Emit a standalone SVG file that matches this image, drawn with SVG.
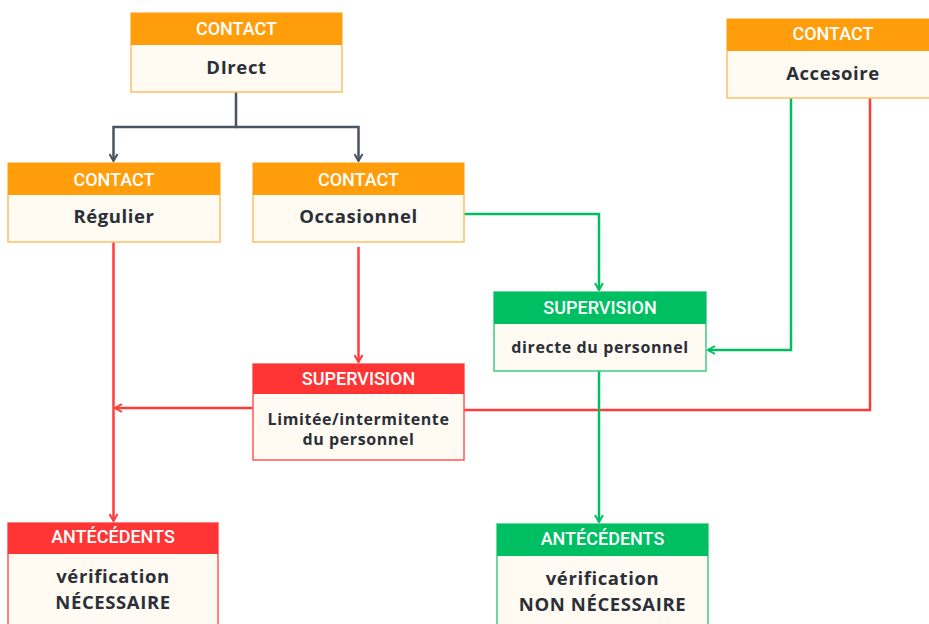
<svg xmlns="http://www.w3.org/2000/svg" width="929" height="624" viewBox="0 0 929 624">
<defs>
<style>
.hd{font-family:Roboto,"Liberation Sans",sans-serif;font-size:18px;fill:#fff;text-anchor:middle;font-weight:500}
.bd{font-family:"Open Sans","Liberation Sans",sans-serif;font-weight:700;fill:#2b2f38;text-anchor:middle;letter-spacing:0.6px}
.body{fill:#fffbf3;stroke-width:1.5}
.o .body{stroke:#ffbf66}.o .h{fill:#ff9d0a}
.r .body{stroke:#ff5a5a}.r .h{fill:#ff3535}
.g .body{stroke:#3ccd84}.g .h{fill:#00bf63}
.c{fill:none;stroke-width:2.5;stroke-linejoin:miter}
</style>
<marker id="ad" viewBox="0 0 10 10" refX="8" refY="5" markerWidth="4" markerHeight="4" orient="auto" markerUnits="strokeWidth"><path d="M1,1 L8,5 L1,9" fill="none" stroke="#4a5561" stroke-width="2"/></marker>
<marker id="ar" viewBox="0 0 10 10" refX="8" refY="5" markerWidth="4" markerHeight="4" orient="auto" markerUnits="strokeWidth"><path d="M1,1 L8,5 L1,9" fill="none" stroke="#ff3b3b" stroke-width="2"/></marker>
<marker id="ag" viewBox="0 0 10 10" refX="8" refY="5" markerWidth="4" markerHeight="4" orient="auto" markerUnits="strokeWidth"><path d="M1,1 L8,5 L1,9" fill="none" stroke="#00bf63" stroke-width="2"/></marker>
</defs>
<rect width="929" height="624" fill="#fff"/>
<g id="connectors">
<path class="c" stroke="#4a5561" d="M236,92 V127 H113.5 V161" marker-end="url(#ad)"/>
<path class="c" stroke="#4a5561" d="M236,127 H358.5 V161" marker-end="url(#ad)"/>
<path class="c" stroke="#ff3b3b" d="M113.5,242 V521" marker-end="url(#ar)"/>
<path class="c" stroke="#ff3b3b" d="M358.5,247 V362" marker-end="url(#ar)"/>
<path class="c" stroke="#ff3b3b" d="M253,408 H115" marker-end="url(#ar)"/>
<path class="c" stroke="#ff3b3b" d="M870,98 V410 H464"/>
<path class="c" stroke="#00bf63" d="M464,214 H599 V290" marker-end="url(#ag)"/>
<path class="c" stroke="#00bf63" d="M791,98 V350 H708" marker-end="url(#ag)"/>
<path class="c" stroke="#00bf63" d="M599,371 V522" marker-end="url(#ag)"/>
</g>
<g id="direct" class="o">
<rect class="body" x="131" y="13" width="211" height="79"/>
<rect class="h" x="131" y="13" width="211" height="32"/>
<text class="hd" x="236.5" y="35">CONTACT</text>
<text class="bd" x="236.5" y="74" font-size="18.5">DIrect</text>
</g>
<g id="regulier" class="o">
<rect class="body" x="8" y="163" width="212" height="79"/>
<rect class="h" x="8" y="163" width="212" height="32"/>
<text class="hd" x="114" y="186">CONTACT</text>
<text class="bd" x="114" y="223" font-size="18.5">Régulier</text>
</g>
<g id="occasionnel" class="o">
<rect class="body" x="253" y="163" width="211" height="79"/>
<rect class="h" x="253" y="163" width="211" height="32"/>
<text class="hd" x="358.5" y="186">CONTACT</text>
<text class="bd" x="358.5" y="223" font-size="18.5">Occasionnel</text>
</g>
<g id="accesoire" class="o">
<rect class="body" x="727" y="19" width="212" height="79"/>
<rect class="h" x="727" y="19" width="212" height="32"/>
<text class="hd" x="833" y="40">CONTACT</text>
<text class="bd" x="833" y="80" font-size="18.5">Accesoire</text>
</g>
<g id="sup-directe" class="g">
<rect class="body" x="494" y="292" width="212" height="79"/>
<rect class="h" x="494" y="292" width="212" height="32"/>
<text class="hd" x="600" y="314">SUPERVISION</text>
<text class="bd" x="600" y="353" font-size="16">directe du personnel</text>
</g>
<g id="sup-limitee" class="r">
<rect class="body" x="253" y="364" width="211" height="96"/>
<rect class="h" x="253" y="364" width="211" height="30"/>
<text class="hd" x="358.5" y="385">SUPERVISION</text>
<text class="bd" x="358.5" y="425" font-size="16">Limitée/intermitente</text>
<text class="bd" x="358.5" y="445" font-size="16">du personnel</text>
</g>
<g id="ant-necessaire" class="r">
<rect class="body" x="8" y="523" width="210" height="120"/>
<rect class="h" x="8" y="523" width="210" height="31"/>
<text class="hd" x="113" y="543">ANTÉCÉDENTS</text>
<text class="bd" x="113" y="583" font-size="18.5">vérification</text>
<text class="bd" x="113" y="609" font-size="18.5">NÉCESSAIRE</text>
</g>
<g id="ant-non" class="g">
<rect class="body" x="497" y="524" width="211" height="120"/>
<rect class="h" x="497" y="524" width="211" height="32"/>
<text class="hd" x="602.5" y="545">ANTÉCÉDENTS</text>
<text class="bd" x="602.5" y="585" font-size="18.5">vérification</text>
<text class="bd" x="602.5" y="611" font-size="18.5">NON NÉCESSAIRE</text>
</g>
</svg>
